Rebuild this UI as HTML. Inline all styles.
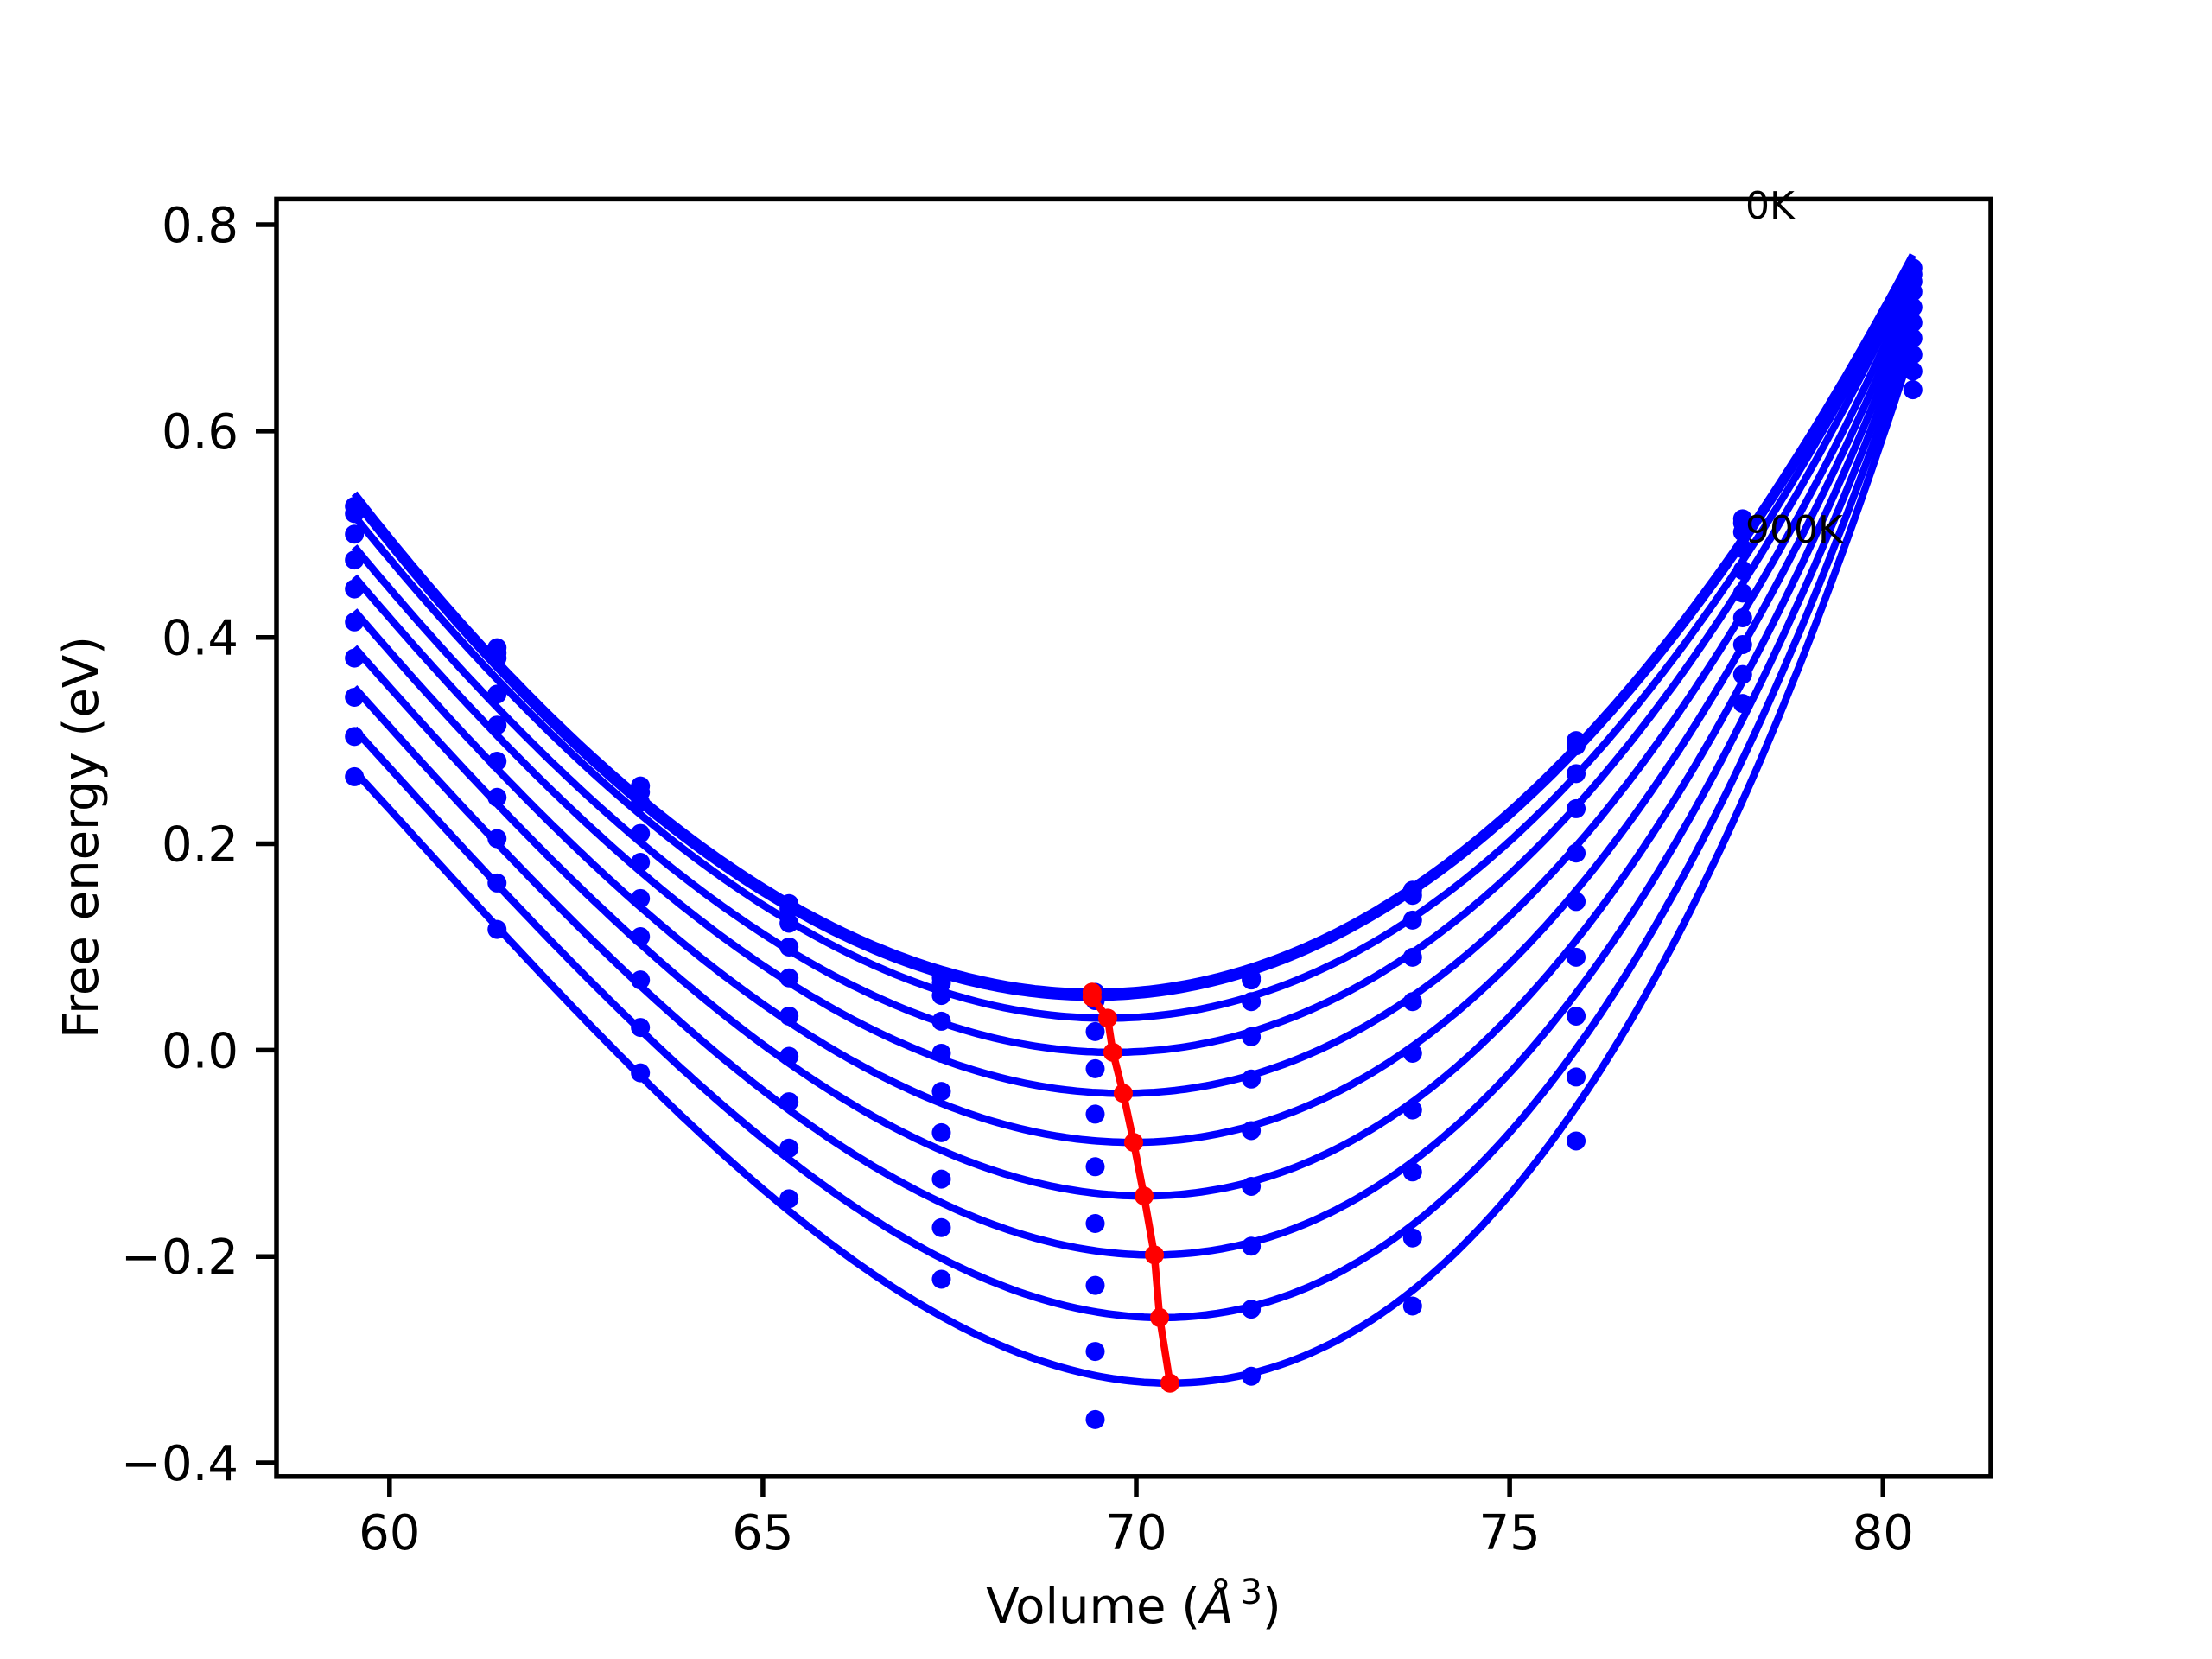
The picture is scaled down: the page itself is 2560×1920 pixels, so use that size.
<!DOCTYPE html>
<html><head><meta charset="utf-8"><style>
html,body{margin:0;padding:0;background:#fff}
svg{display:block}
text{font-family:"DejaVu Sans","Liberation Sans",sans-serif;fill:#000}
</style></head><body>
<svg id="chart" width="2560" height="1920" viewBox="0 0 2560 1920" xmlns="http://www.w3.org/2000/svg">
<rect x="0" y="0" width="2560" height="1920" fill="#fff"/>
<g id="plot"></g>
<g id="axes"></g>
</svg>
<script>
const volumes = [59.53, 61.44, 63.36, 65.35, 67.39, 69.45, 71.54, 73.70, 75.89, 78.12, 80.40];
const temperatures = [0, 100, 200, 300, 400, 500, 600, 700, 800, 900];
// energies per volume column, rows = temperature (0K .. 900K)
const col0 = [0.527, 0.520, 0.500, 0.475, 0.447, 0.415, 0.380, 0.342, 0.304, 0.265];
const col1 = [0.390, 0.385, 0.380, 0.345, 0.315, 0.280, 0.245, 0.205, 0.162, 0.117];
const col2 = [0.256, 0.250, 0.240, 0.210, 0.182, 0.147, 0.110, 0.068, 0.022, -0.022];
const col3 = [0.142, 0.137, 0.123, 0.100, 0.070, 0.033, -0.006, -0.050, -0.095, -0.144];
const col4 = [0.070, 0.065, 0.053, 0.028, -0.003, -0.040, -0.080, -0.125, -0.172, -0.222];
const col5 = [0.056, 0.048, 0.018, -0.018, -0.062, -0.113, -0.168, -0.228, -0.292, -0.358];
const col6 = [0.070, 0.068, 0.047, 0.013, -0.028, -0.078, -0.132, -0.190, -0.251, -0.316];
const col7 = [0.155, 0.150, 0.126, 0.090, 0.047, -0.003, -0.058, -0.118, -0.182, -0.248];
const col8 = [0.300, 0.295, 0.268, 0.234, 0.191, 0.144, 0.090, 0.033, -0.026, -0.088];
const col9 = [0.515, 0.511, 0.502, 0.486, 0.465, 0.443, 0.419, 0.393, 0.364, 0.336];
const col10 = [0.758, 0.752, 0.745, 0.735, 0.720, 0.705, 0.690, 0.674, 0.658, 0.640];
const columns = [col0, col1, col2, col3, col4, col5, col6, col7, col8, col9, col10];
const xTicks = [60, 65, 70, 75, 80];
const yTicks = [-0.4, -0.2, 0.0, 0.2, 0.4, 0.6, 0.8];
const yTickLabels = ["\u22120.4", "\u22120.2", "0.0", "0.2", "0.4", "0.6", "0.8"];
const annotations = ["0K", "900K"];

const AX = {l: 320, r: 2304, t: 230.4, b: 1708.8};
const vMin = Math.min(...volumes), vMax = Math.max(...volumes);
const xMin = vMin - 0.05 * (vMax - vMin), xMax = vMax + 0.05 * (vMax - vMin);
const yMin = -0.4132, yMax = 0.8248;
function sx(v){ return AX.l + (v - xMin) / (xMax - xMin) * (AX.r - AX.l); }
function sy(e){ return AX.b - (e - yMin) / (yMax - yMin) * (AX.b - AX.t); }

const NS = "http://www.w3.org/2000/svg";
function mk(tag, attrs, parent){ const el = document.createElementNS(NS, tag); for (const k in attrs) el.setAttribute(k, attrs[k]); parent.appendChild(el); return el; }
const plot = document.getElementById('plot');
const axes = document.getElementById('axes');

// cubic least squares fit
function fit(xs, ys){
  const n = 4, A = [], b = [];
  for (let i=0;i<n;i++){ A.push(new Array(n).fill(0)); b.push(0); }
  xs.forEach((x, k) => { const u = (x - 70) / 10; const p = [1, u, u*u, u*u*u];
    for (let i=0;i<n;i++){ b[i] += p[i]*ys[k]; for (let j=0;j<n;j++) A[i][j] += p[i]*p[j]; } });
  for (let i=0;i<n;i++){ let m=i; for (let r=i+1;r<n;r++) if (Math.abs(A[r][i])>Math.abs(A[m][i])) m=r;
    [A[i],A[m]]=[A[m],A[i]]; [b[i],b[m]]=[b[m],b[i]];
    for (let r=i+1;r<n;r++){ const f=A[r][i]/A[i][i]; for (let c=i;c<n;c++) A[r][c]-=f*A[i][c]; b[r]-=f*b[i]; } }
  const c = new Array(n).fill(0);
  for (let i=n-1;i>=0;i--){ let s=b[i]; for (let j=i+1;j<n;j++) s-=A[i][j]*c[j]; c[i]=s/A[i][i]; }
  return x => { const u=(x-70)/10; return c[0]+c[1]*u+c[2]*u*u+c[3]*u*u*u; };
}

const clip = mk('clipPath', {id:'clipax'}, plot);
mk('rect', {x:AX.l, y:AX.t, width:AX.r-AX.l, height:AX.b-AX.t}, clip);
const g = mk('g', {'clip-path':'url(#clipax)'}, plot);
const minX = [], minY = [];
temperatures.forEach((T, ti) => {
  const ys = columns.map(c => c[ti]);
  const f = fit(volumes, ys);
  let d = '', bx = 0, by = 1e9;
  for (let i=0;i<=300;i++){ const v = vMin + (vMax-vMin)*i/300; const e = f(v);
    if (e < by){ by = e; bx = v; }
    d += (i?'L':'M') + sx(v).toFixed(1) + ' ' + sy(e).toFixed(1); }
  minX.push(bx); minY.push(by);
  const p = mk('path', {d:d, fill:'none', stroke:'#0000ff', 'stroke-width':8.5}, g);
  
  
  volumes.forEach((v, vi) => {
    const c = mk('circle', {cx:sx(v), cy:sy(ys[vi]), r:11, fill:'#0000ff'}, g);
    
    
  });
});
let dr = '';
minX.forEach((v, i) => { dr += (i?'L':'M') + sx(v).toFixed(1) + ' ' + sy(minY[i]).toFixed(1); });
const rl = mk('path', {d:dr, fill:'none', stroke:'#ff0000', 'stroke-width':8.5}, g);


minX.forEach((v, i) => {
  const c = mk('circle', {cx:sx(v), cy:sy(minY[i]), r:11, fill:'#ff0000'}, g);
  
  
});

// annotations
const a0 = mk('text', {x:2020, y:253, 'font-size':44}, plot);
a0.textContent = annotations[0];


const a1 = mk('text', {x:2020, y:628, 'font-size':44}, plot);
a1.textContent = annotations[1];



// frame
const fr = mk('rect', {x:AX.l, y:AX.t, width:AX.r-AX.l, height:AX.b-AX.t, fill:'none', stroke:'#000', 'stroke-width':5.5}, axes);


xTicks.forEach(t => {
  const x = sx(t);
  const l = mk('line', {x1:x, x2:x, y1:AX.b, y2:AX.b+24, stroke:'#000', 'stroke-width':5.5}, axes);
  
  
  const tx = mk('text', {x:x, y:1793, 'font-size':56, 'text-anchor':'middle'}, axes);
  tx.textContent = String(t);
  
  
});
yTicks.forEach((t, i) => {
  const y = sy(t);
  const l = mk('line', {x1:AX.l-24, x2:AX.l, y1:y, y2:y, stroke:'#000', 'stroke-width':5.5}, axes);
  
  
  const tx = mk('text', {x:276, y:y+20, 'font-size':56, 'text-anchor':'end'}, axes);
  tx.textContent = yTickLabels[i];
  
  
});
const xl = mk('text', {x:1312, y:1878, 'font-size':56, 'text-anchor':'middle'}, axes);
xl.innerHTML = 'Volume (<tspan font-style="italic">Å</tspan><tspan dx="8" dy="-22" font-size="40">3</tspan><tspan dy="22">)</tspan>';


const yl = mk('text', {x:0, y:0, 'font-size':56, 'text-anchor':'middle', transform:'translate(113,969) rotate(-90)'}, axes);
yl.textContent = 'Free energy (eV)';


</script>
</body></html>
